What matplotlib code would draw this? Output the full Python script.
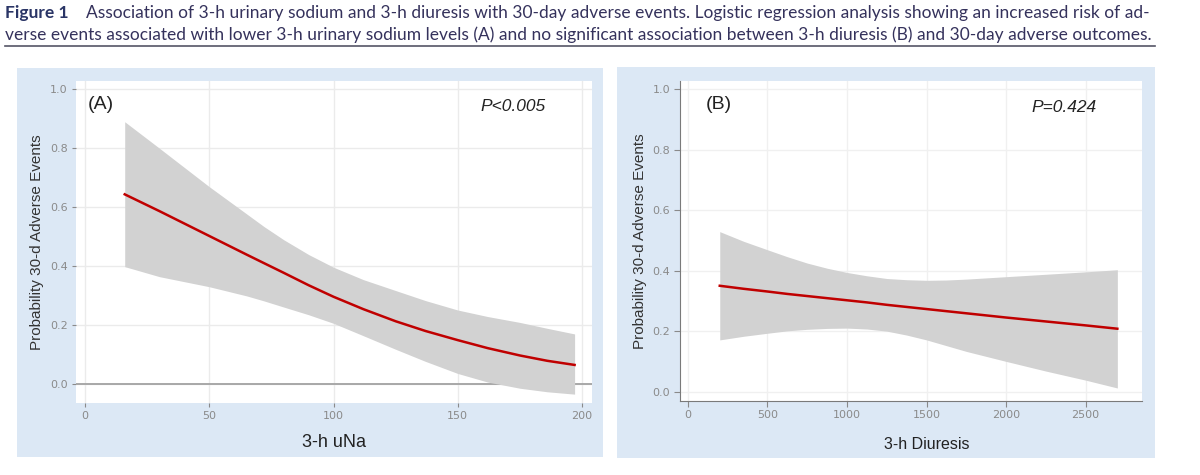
import numpy as np
import matplotlib
matplotlib.use('Agg')
import matplotlib.pyplot as plt
from matplotlib.patches import Rectangle
from matplotlib.lines import Line2D

# panel A: 3-h urinary sodium
una_x = [16, 30, 40, 50, 65, 72, 80, 90, 100, 112, 125, 137, 150, 162, 175, 186, 197]
una_fit = [0.644, 0.587, 0.545, 0.503, 0.440, 0.411, 0.378, 0.336, 0.297, 0.255, 0.214,
           0.181, 0.150, 0.123, 0.098, 0.080, 0.066]
una_hi = [0.890, 0.800, 0.735, 0.670, 0.578, 0.535, 0.490, 0.440, 0.397, 0.355, 0.318,
          0.284, 0.252, 0.230, 0.210, 0.190, 0.171]
una_lo = [0.399, 0.365, 0.348, 0.331, 0.300, 0.283, 0.262, 0.236, 0.207, 0.165, 0.119,
          0.078, 0.037, 0.008, -0.013, -0.025, -0.033]

# panel B: 3-h diuresis
diu_x = [200, 350, 500, 625, 750, 875, 1000, 1125, 1250, 1375, 1500, 1625, 1750,
         2000, 2250, 2500, 2700]
diu_fit = [0.350, 0.340, 0.331, 0.323, 0.316, 0.309, 0.302, 0.295, 0.287, 0.280,
           0.273, 0.266, 0.259, 0.245, 0.232, 0.219, 0.208]
diu_hi = [0.529, 0.497, 0.469, 0.446, 0.425, 0.408, 0.394, 0.383, 0.374, 0.370,
          0.368, 0.369, 0.372, 0.380, 0.388, 0.396, 0.403]
diu_lo = [0.171, 0.183, 0.193, 0.201, 0.206, 0.209, 0.210, 0.207, 0.200, 0.187,
          0.171, 0.152, 0.133, 0.100, 0.068, 0.038, 0.012]

yticks = [0.0, 0.2, 0.4, 0.6, 0.8, 1.0]
una_ticks = [0, 50, 100, 150, 200]
diu_ticks = [0, 500, 1000, 1500, 2000, 2500]

W, H = 1200, 475
fig = plt.figure(figsize=(12, 4.75), dpi=100)
fig.patch.set_facecolor('white')

def fx(px):
    return px / W

def fy(py):
    return 1 - py / H

blue = '#dce8f5'
# blue panel backgrounds
fig.add_artist(Rectangle((fx(17), fy(457)), fx(603 - 17), (457 - 68) / H,
                         facecolor=blue, edgecolor='none', zorder=0))
fig.add_artist(Rectangle((fx(617), fy(458)), fx(1155 - 617), (458 - 67) / H,
                         facecolor=blue, edgecolor='none', zorder=0))

# caption
cap_font = ['Lato', 'DejaVu Sans']
cap_col = '#35325c'
fig.text(fx(5), fy(13), 'Figure 1', fontsize=12.55, fontweight='bold', color='#2a3566',
         family=cap_font, va='center')
fig.text(fx(86), fy(13), 'Association of 3-h urinary sodium and 3-h diuresis with 30-day adverse events. '
         'Logistic regression analysis showing an increased risk of ad-',
         fontsize=12.55, color=cap_col, family=cap_font, va='center')
fig.text(fx(5), fy(35), 'verse events associated with lower 3-h urinary sodium levels (A) and no significant '
         'association between 3-h diuresis (B) and 30-day adverse outcomes.',
         fontsize=12.55, color=cap_col, family=cap_font, va='center')
fig.add_artist(Line2D([fx(5), fx(1155)], [fy(46), fy(46)], color='#555566', lw=1.2))

tick_col = '#8a8a8a'
grid_col = '#ebebeb'

# ---- panel A ----
ax1 = fig.add_axes([fx(76), fy(403), fx(592 - 76), (403 - 81) / H])
ax1.fill_between(una_x, una_lo, una_hi, color='#d2d2d2', lw=0, zorder=2)
ax1.plot(una_x, una_fit, color='#c00000', lw=1.8, zorder=3)
ax1.axhline(0, color='#a8a8a8', lw=1.4, zorder=1)
ax1.set_xlim(-3.6, 204)
ax1.set_ylim(-0.063, 1.028)
ax1.set_xticks(una_ticks)
ax1.set_yticks(yticks)
ax1.set_yticklabels(['%.1f' % t for t in yticks])
for s in ax1.spines.values():
    s.set_visible(False)
ax1.grid(True, color=grid_col, lw=1, zorder=0)
ax1.set_axisbelow(True)
ax1.tick_params(colors=tick_col, labelsize=8, length=3, width=0.8, pad=3)
ax1.set_xlabel('3-h uNa', fontsize=13, color='#222222', family='Liberation Sans', labelpad=9)
ax1.set_ylabel('Probability 30-d Adverse Events', fontsize=11, color='#333333',
               family='Liberation Sans', labelpad=4)
ax1.text(1, 0.95, '(A)', fontsize=14, color='#222222', family='Liberation Sans', va='center')
ax1.text(159, 0.94, 'P<0.005', fontsize=12.5, style='italic', color='#222222',
         family='Liberation Sans', va='center')

# ---- panel B ----
ax2 = fig.add_axes([fx(680), fy(400.7), fx(1142 - 680), (400.7 - 81) / H])
ax2.fill_between(diu_x, diu_lo, diu_hi, color='#d2d2d2', lw=0, zorder=2)
ax2.plot(diu_x, diu_fit, color='#c00000', lw=1.8, zorder=3)
ax2.set_xlim(-50, 2855)
ax2.set_ylim(-0.030, 1.027)
ax2.set_xticks(diu_ticks)
ax2.set_yticks(yticks)
ax2.set_yticklabels(['%.1f' % t for t in yticks])
ax2.spines['top'].set_visible(False)
ax2.spines['right'].set_visible(False)
ax2.spines['left'].set_color('#7a7a7a')
ax2.spines['bottom'].set_color('#7a7a7a')
ax2.grid(True, color='#f0f0f0', lw=1, zorder=0)
ax2.set_axisbelow(True)
ax2.tick_params(colors=tick_col, labelsize=8, length=4, width=0.8, pad=3)
ax2.set_xlabel('3-h Diuresis', fontsize=11.5, color='#222222', family='Liberation Sans', labelpad=9)
ax2.xaxis.set_label_coords(0.535, -0.115)
ax2.set_ylabel('Probability 30-d Adverse Events', fontsize=11, color='#333333',
               family='Liberation Sans', labelpad=4)
ax2.text(110, 0.95, '(B)', fontsize=14, color='#222222', family='Liberation Sans', va='center')
ax2.text(2160, 0.94, 'P=0.424', fontsize=12.5, style='italic', color='#222222',
         family='Liberation Sans', va='center')

fig.savefig('out.png', dpi=100)
